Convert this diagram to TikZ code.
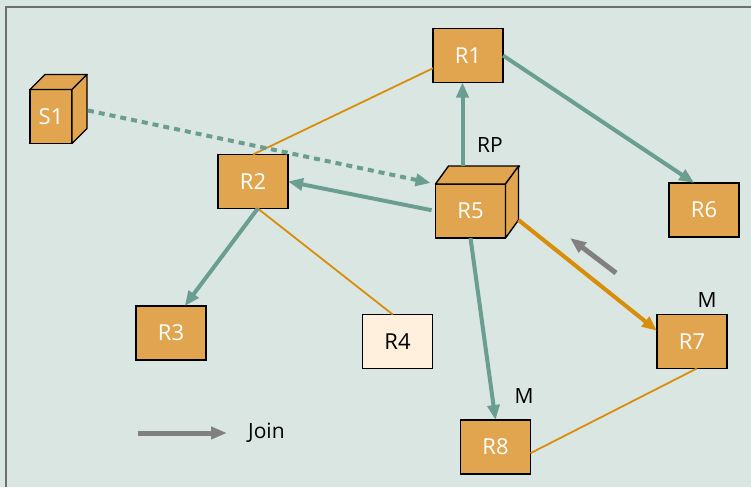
\documentclass[tikz,border=0pt]{standalone}
\usepackage{fontspec}
\setmainfont{Open Sans}
\usetikzlibrary{arrows.meta,calc}
\definecolor{bgcol}{HTML}{DAE6E1}
\definecolor{framecol}{HTML}{6E6E6E}
\definecolor{boxcol}{HTML}{E1A54F}
\definecolor{palecol}{HTML}{FEF0DC}
\definecolor{linkcol}{HTML}{D98E0B}
\definecolor{tealcol}{HTML}{6A9E91}
\definecolor{joincol}{HTML}{808080}
\tikzset{
  router/.style={draw=black, line width=1.4pt, fill=boxcol, text=white,
    minimum width=70pt, minimum height=54pt, inner sep=0pt, outer sep=0pt,
    font=\fontsize{22}{26}\selectfont},
  host/.style={router, minimum width=42pt},
  pale/.style={router, fill=palecol, text=black},
  cubeface/.style={draw=black, line width=1.4pt, fill=boxcol, line join=round},
  link/.style={draw=linkcol, line width=1.8pt},
  mlink/.style={draw=linkcol, line width=4pt, -{Triangle[length=15pt,width=12pt]}},
  tree/.style={draw=tealcol, line width=4pt, -{Triangle[length=15pt,width=12pt]}},
  srcpath/.style={tree, dash pattern=on 6pt off 5pt},
  joinarrow/.style={draw=joincol, line width=5pt, -{Triangle[length=16pt,width=12pt]}},
  tag/.style={font=\fontsize{21}{25}\selectfont, text=black, inner sep=0pt}
}
\begin{document}
\begin{tikzpicture}[x=1pt,y=-1pt]
\useasboundingbox (0,0) rectangle (751,487);
\fill[bgcol] (0,0) rectangle (751,487);
\draw[framecol, line width=1.5pt] (6,487) -- (6,7) -- (751,7);

% routers
\node[router] (r1) at (468,55.5) {R1};
\node[router] (r2) at (253,181.5) {R2};
\node[router] (r3) at (171,333) {R3};
\node[pale]   (r4) at (397.5,341.5) {R4};
\node[router] (r5) at (470.5,211) {R5};
\node[router] (r6) at (704,210) {R6};
\node[router] (r7) at (692,341.5) {R7};
\node[router] (r8) at (495.5,447) {R8};
\node[host]   (s1) at (51,116.5) {S1};

% cube faces of the source host and the rendezvous point
\draw[cubeface] (s1.north west) -- ++(15,-15) -- ++(42,0) -- (s1.north east) -- cycle;
\draw[cubeface] (s1.north east) -- ++(15,-15) -- ++(0,54) -- (s1.south east) -- cycle;
\draw[cubeface] (r5.north west) -- ++(13,-18) -- ++(71,0) -- (r5.north east) -- cycle;
\draw[cubeface] (r5.north east) -- ++(13,-18) -- ++(0,54) -- (r5.south east) -- cycle;

% labels
\node[tag] (rp) at (490,145) {RP};
\node[tag] (m7) at (707,300) {M};
\node[tag] (m8) at (524,396) {M};

% physical links
\draw[link] (r2.north) -- (r1.200);
\draw[link] (r2.-80) -- (r4.100);
\draw[link] (r8.-10) -- (r7.-80);

% shared tree
\coordinate (r5top) at ($(r5.north)+(-8,-18)$);
\coordinate (r5back) at ($(r5.south east)+(13,-18)$);
\draw[tree] (r5top) -- (r1.south -| r5top);
\draw[tree] (r1.east) -- (r6.110);
\draw[tree, shorten <=4pt] (r5.west) -- (r2.east);
\draw[tree] (r2.-80) -- (r3.63);
\draw[tree] (r5.south) -- (r8.north);
\draw[mlink] (r5back) -- (r7.163);

% register path from the source
\draw[srcpath, shorten >=5pt] ($(s1.east)+(16,-6)$) -- (r5.north west);

% join message
\coordinate (ja) at (616,273);
\coordinate (jb) at (570,238);
\draw[joinarrow] (ja) -- (jb);

% legend
\coordinate (la) at (138,433);
\coordinate (lb) at (227,433);
\draw[joinarrow] (la) -- (lb);
\node[tag, anchor=west] (ljoin) at (248,433) {Join};
\end{tikzpicture}
\end{document}
